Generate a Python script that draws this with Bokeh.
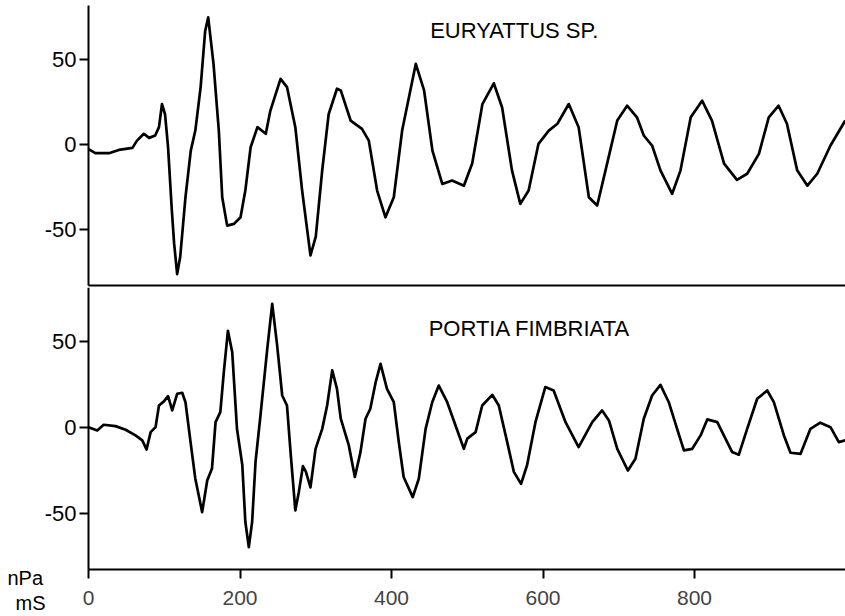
from bokeh.plotting import figure
from bokeh.layouts import column
from bokeh.models import Range1d, FixedTicker, LinearAxis, Label
from bokeh.embed import file_html
from bokeh.resources import INLINE

# ---- data (time in mS, pressure in nPa) ----
top_ms = [0, 9, 27, 40, 58, 64, 73, 80, 88, 93, 97, 101, 105, 110, 113, 117, 121, 128, 135, 141,
          148, 154, 158, 165, 172, 176.5, 183, 192, 200.7, 207, 214, 223, 234, 240, 253.5, 262, 273,
          282, 293, 300, 308.5, 317, 328, 333, 346, 361, 370, 381, 392, 403, 414, 432, 443, 454, 467,
          480, 495.5, 506.5, 520, 535, 546, 559, 570, 581, 594, 607.6, 619, 634, 647, 660.5, 671.5,
          682.5, 698, 711, 724, 733, 744, 755, 770.5, 781.5, 795, 810, 823, 839, 856, 869.5, 885,
          898, 911, 922, 935.5, 949, 962, 979.5, 999]
top_npa = [-2.5, -4.9, -4.9, -3, -1.8, 2.5, 6.5, 4.1, 5.5, 10.4, 24, 18, -1.4, -38.6, -58, -76, -66,
           -30.8, -3.4, 8.4, 34, 67, 75, 47.6, 8.4, -30.8, -47.5, -46.5, -42.6, -26.9, -1.4, 10.4,
           6.5, 20, 38.8, 34, 10.4, -26.9, -65, -54, -15, 18, 33, 32, 14.3, 9.4, 2.5, -26.9, -42.6,
           -30.8, 8.4, 47.6, 32, -3.4, -23, -21, -24, -11, 24, 36.2, 22, -15, -34.7, -26.9, 0.6, 8.4,
           12.4, 24, 10.4, -30.8, -35.7, -15, 14.3, 23, 16.2, 5.5, -0.4, -15, -28.8, -15, 16.2, 26,
           14.3, -11, -20.6, -17, -5.3, 16.2, 23, 12.4, -15, -24, -17, -0.4, 14.3]

bot_ms = [0, 11.5, 20, 35.6, 49, 62, 71, 76.6, 82, 88.5, 93, 99.5, 105, 110.5, 117, 123.7, 128, 134.7,
          141, 150, 156.7, 163, 167.7, 174, 178.6, 184, 189.7, 196, 203, 207, 211.6, 216, 220.5, 227,
          236, 242.5, 249, 255.7, 262, 266.7, 273, 277.6, 283, 287, 293, 299.7, 308.5, 315, 321.7,
          328, 333, 343.6, 351.6, 359, 365.7, 372, 379, 385.5, 394, 403, 409.6, 416, 428, 436, 445,
          453.7, 462.4, 473.5, 484.5, 495.5, 500, 511, 519.7, 533, 541.6, 552.7, 561.5, 571, 579,
          590, 603, 614, 629.7, 647, 665, 678, 687, 698, 712, 722, 733, 744, 755, 766, 777, 786, 797,
          808, 816.8, 830, 838.7, 849.7, 858.5, 869.5, 882.7, 896, 904.7, 918, 926.7, 940, 953, 966,
          979.5, 990.5, 999]
bot_npa = [0, -1.9, 1.4, 0.6, -1.5, -4.8, -7.7, -13, -2.9, 0, 12.6, 15, 18, 9.7, 19.4, 20, 14.5, -8.7,
           -30, -49.4, -31, -24, 2.9, 8.7, 32, 56, 43.6, -1, -22, -55, -69.8, -55, -20, 6.8, 45.6,
           71.7, 47.5, 18.4, 12.6, -14.5, -48.4, -37.8, -22.7, -26, -35, -12.6, -1, 12.6, 33, 22.3,
           4.9, -10.6, -29, -14.5, 4.9, 10.7, 26, 36.8, 22.3, 14.5, -8.7, -29, -40.7, -30, -1, 14.5,
           24.2, 14.5, 1, -12.6, -6.7, -2.9, 12.6, 18.8, 12.6, -8.7, -26, -33, -22, 2.9, 23.3, 21.3,
           2.9, -11.6, 2.9, 9.7, 3.9, -12.6, -25.2, -18.4, 4.9, 18.4, 24.6, 14.5, -1, -13.5, -12.6,
           -4.8, 4.5, 2.9, -4.8, -14.5, -16, -1, 16.5, 21.3, 14.5, -4.8, -14.9, -15.5, -1, 2.6, 0,
           -8.7, -7.7]

x_ticks = [0, 200, 400, 600, 800]
y_ticks = [-50, 0, 50]
y_tick_labels = {-50: "-50", 0: "0", 50: "50"}
top_title = "EURYATTUS SP."
bot_title = "PORTIA FIMBRIATA"
y_unit = "nPa"
x_unit = "mS"

FONT = "Liberation Sans"
X_END = 999.3
xr = Range1d(-116.2, X_END)

TOP_LO, TOP_HI = -82.8, 82.0      # extent of the upper panel's axis
BOT_LO, BOT_HI = -82.7, 81.2      # extent of the lower panel's axis


def make_y_axis(lo, hi):
    ax = LinearAxis(ticker=FixedTicker(ticks=y_ticks), fixed_location=0, bounds=(lo, hi))
    ax.major_label_overrides = y_tick_labels
    ax.axis_line_width = 2
    ax.axis_line_color = "black"
    ax.major_tick_line_width = 2
    ax.major_tick_out = 9
    ax.major_tick_in = 0
    ax.minor_tick_line_color = None
    ax.major_label_standoff = 3
    ax.major_label_text_font = FONT
    ax.major_label_text_font_size = "22px"
    ax.major_label_text_color = "black"
    return ax


def base_fig(height, yr):
    p = figure(width=845, height=height, x_range=xr, y_range=yr,
               output_backend="svg", toolbar_location=None,
               x_axis_location=None, y_axis_location=None,
               min_border_left=0, min_border_right=0, min_border_top=0,
               min_border_bottom=0)
    p.grid.grid_line_color = None
    p.outline_line_color = None
    p.background_fill_color = "white"
    p.border_fill_color = "white"
    return p


# upper panel: canvas rows 0..287
top = base_fig(287, Range1d(-83.9, 84.9))
top.add_layout(make_y_axis(TOP_LO, TOP_HI), "left")
sep = LinearAxis(ticker=FixedTicker(ticks=[]), fixed_location=TOP_LO, bounds=(0, X_END),
                 major_label_text_font_size="0px", major_tick_out=0, major_tick_in=0,
                 major_label_standoff=0, minor_tick_line_color=None,
                 axis_line_width=2, axis_line_color="black")
top.add_layout(sep, "below")
top.line(top_ms, top_npa, line_width=2.7, color="black", line_join="round")
top.add_layout(Label(x=451, y=67.2, text=top_title, text_font=FONT, text_font_size="22px",
                     text_baseline="middle", text_align="left", text_color="black"))

# lower panel: canvas rows 287..616
bot = base_fig(329, Range1d(-110.1, 81.2))
bot.add_layout(make_y_axis(BOT_LO, BOT_HI), "left")
xb = LinearAxis(ticker=FixedTicker(ticks=x_ticks), fixed_location=BOT_LO, bounds=(0, X_END))
xb.axis_line_width = 2
xb.major_tick_line_width = 2
xb.major_tick_out = 9
xb.major_tick_in = 0
xb.minor_tick_line_color = None
xb.major_label_standoff = 13
xb.major_label_text_font = FONT
xb.major_label_text_font_size = "21px"
bot.add_layout(xb, "below")
bot.line(bot_ms, bot_npa, line_width=2.7, color="black", line_join="round")
bot.add_layout(Label(x=449, y=57.3, text=bot_title, text_font=FONT, text_font_size="22px",
                     text_baseline="middle", text_align="left", text_color="black"))
bot.add_layout(Label(x=-107, y=-88.0, text=y_unit, text_font=FONT, text_font_size="20px",
                     text_baseline="alphabetic", text_align="left", text_color="black"))
bot.add_layout(Label(x=-96.4, y=-102.5, text=x_unit, text_font=FONT, text_font_size="20px",
                     text_baseline="alphabetic", text_align="left", text_color="black"))

layout = column(top, bot, spacing=0)
open("out.html", "w").write(file_html(layout, INLINE))
